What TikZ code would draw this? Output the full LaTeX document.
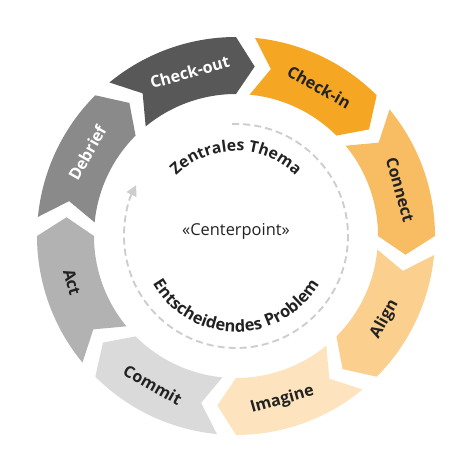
\documentclass[tikz,border=0pt]{standalone}
\usepackage{fontspec}
\setmainfont{Open Sans}
\usepackage{tikz}
\usetikzlibrary{arrows.meta, decorations.text}
\definecolor{checkinorange}{HTML}{F5A623}
\definecolor{connectorange}{HTML}{F8BD63}
\definecolor{alignorange}{HTML}{FBD08E}
\definecolor{imagineorange}{HTML}{FDE4BE}
\definecolor{commitgray}{HTML}{DADADA}
\definecolor{actgray}{HTML}{B2B2B2}
\definecolor{debriefgray}{HTML}{8A8A8A}
\definecolor{checkoutgray}{HTML}{585858}
\definecolor{labeldark}{HTML}{222222}
\definecolor{dashgray}{HTML}{CDCDCD}
\tikzset{
    ring segment/.style={
        draw=none
    },
    segment label/.style={
        inner sep=0pt,
        font=\fontsize{13.8}{16}\selectfont\bfseries,
        text=labeldark
    },
    center label/.style={
        inner sep=0pt,
        font=\fontsize{14}{16}\selectfont,
        text=labeldark
    },
    cycle arrow/.style={
        line width=1.6pt,
        dash pattern=on 6pt off 3.5pt,
        draw=dashgray,
        -{Triangle[length=9pt, width=9pt]}
    }
}

\begin{document}
\begin{tikzpicture}[x=0.03cm, y=0.03cm]
                \useasboundingbox (-236,-237) rectangle (237,236);

                % Ring segments (clockwise, tip into the next notch)
                \fill[ring segment, checkinorange] (84.5:199) arc[start angle=84.5, end angle=45, radius=199] -- (38.7:170.5) -- (45:142) arc[start angle=45, end angle=84.5, radius=142] -- (78.2:170.5) -- cycle;
                \fill[ring segment, connectorange] (39.5:199) arc[start angle=39.5, end angle=0, radius=199] -- (-6.3:170.5) -- (0:142) arc[start angle=0, end angle=39.5, radius=142] -- (33.2:170.5) -- cycle;
                \fill[ring segment, alignorange] (-5.5:199) arc[start angle=-5.5, end angle=-45, radius=199] -- (-51.3:170.5) -- (-45:142) arc[start angle=-45, end angle=-5.5, radius=142] -- (-11.8:170.5) -- cycle;
                \fill[ring segment, imagineorange] (-50.5:199) arc[start angle=-50.5, end angle=-90, radius=199] -- (-96.3:170.5) -- (-90:142) arc[start angle=-90, end angle=-50.5, radius=142] -- (-56.8:170.5) -- cycle;
                \fill[ring segment, commitgray] (-95.5:199) arc[start angle=-95.5, end angle=-135, radius=199] -- (-141.3:170.5) -- (-135:142) arc[start angle=-135, end angle=-95.5, radius=142] -- (-101.8:170.5) -- cycle;
                \fill[ring segment, actgray] (-140.5:199) arc[start angle=-140.5, end angle=-180, radius=199] -- (-186.3:170.5) -- (-180:142) arc[start angle=-180, end angle=-140.5, radius=142] -- (-146.8:170.5) -- cycle;
                \fill[ring segment, debriefgray] (-185.5:199) arc[start angle=-185.5, end angle=-225, radius=199] -- (-231.3:170.5) -- (-225:142) arc[start angle=-225, end angle=-185.5, radius=142] -- (-191.8:170.5) -- cycle;
                \fill[ring segment, checkoutgray] (-230.5:199) arc[start angle=-230.5, end angle=-270, radius=199] -- (-276.3:170.5) -- (-270:142) arc[start angle=-270, end angle=-230.5, radius=142] -- (-236.8:170.5) -- cycle;

                % Segment labels
                \node[segment label, rotate=-29.25] (checkin) at (60.75:170.5) {Check-in};
                \node[segment label, rotate=-74.25] (connect) at (15.75:170.5) {Connect};
                \node[segment label, rotate=60.75] (align) at (-29.25:170.5) {Align};
                \node[segment label, rotate=15.75] (imagine) at (-74.25:170.5) {Imagine};
                \node[segment label, rotate=-29.25] (commit) at (-119.25:170.5) {Commit};
                \node[segment label, rotate=-74.25] (act) at (-164.25:170.5) {Act};
                \node[segment label, rotate=60.75, text=white] (debrief) at (150.75:170.5) {Debrief};
                \node[segment label, rotate=15.75, text=white] (checkout) at (105.75:170.5) {Check-out};

                % Inner dashed cycle
                \draw[cycle arrow] (92:112) arc[start angle=92, end angle=-207, radius=112];

                % Curved texts
                \path[decorate, decoration={text along path, text align=center,
                    text={|\fontsize{13.5}{16}\selectfont\bfseries\color{labeldark}|Zentrales Thema}}]
                    (150:85) arc[start angle=150, end angle=30, radius=85];
                \path[decorate, decoration={text along path, text align=center,
                    text={|\fontsize{14}{16}\selectfont\bfseries\color{labeldark}|Entscheidendes Problem}}]
                    (195:96) arc[start angle=195, end angle=345, radius=96];

                % Center
                \node[center label] (centerpoint) at (0,5) {«Centerpoint»};
            \end{tikzpicture}
\end{document}
